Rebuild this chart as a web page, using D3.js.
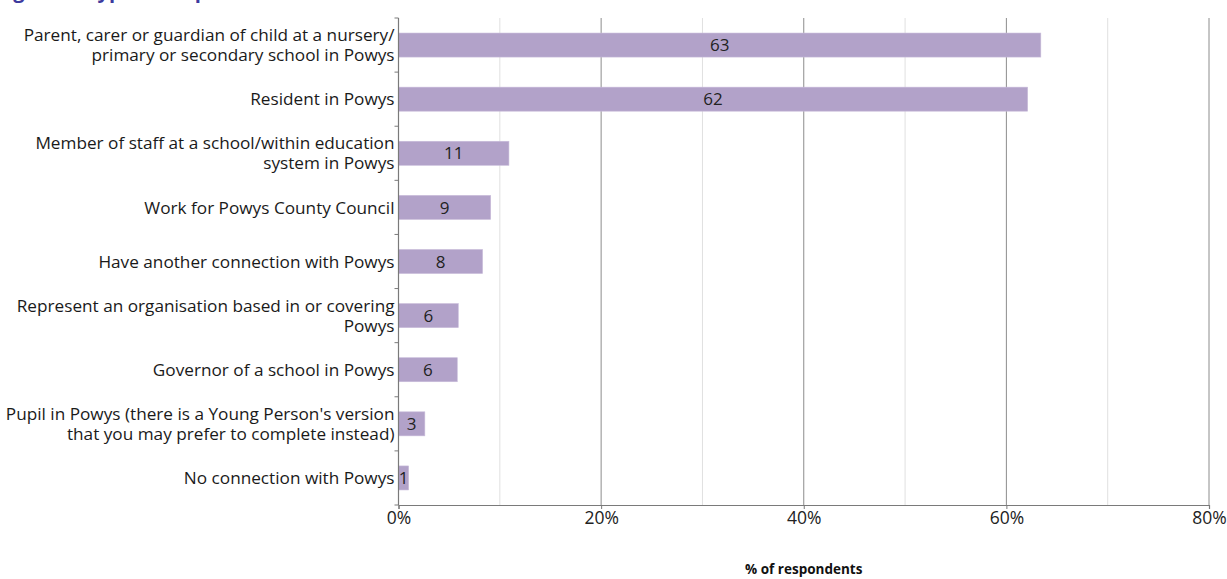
<!DOCTYPE html>
<html>
<head>
<meta charset="utf-8">
<script src="https://cdn.jsdelivr.net/npm/d3@7"></script>
<style>
  html, body { margin: 0; padding: 0; background: #fff; }
  svg { display: block; font-family: "Open Sans", Lato, sans-serif; }
</style>
</head>
<body>
<svg id="chart" width="1227" height="579"></svg>
<script>
// Respondent types (labels split into display lines)
const categories = [
  ["Parent, carer or guardian of child at a nursery/", "primary or secondary school in Powys"],
  ["Resident in Powys"],
  ["Member of staff at a school/within education", "system in Powys"],
  ["Work for Powys County Council"],
  ["Have another connection with Powys"],
  ["Represent an organisation based in or covering", "Powys"],
  ["Governor of a school in Powys"],
  ["Pupil in Powys (there is a Young Person's version", "that you may prefer to complete instead)"],
  ["No connection with Powys"]
];
// Share of respondents, %
const values = [63.4, 62.1, 10.9, 9.1, 8.3, 5.9, 5.8, 2.6, 1.0];
const xTicks = [0, 20, 40, 60, 80];
const xMinorTicks = [10, 30, 50, 70];
const titleText = "Figure 2: Type of respondent";
const axisTitle = "% of respondents";

const svg = d3.select("#chart");
const x = d3.scaleLinear().domain([0, 80]).range([398.5, 1209]);
const y = d3.scaleBand()
  .domain(d3.range(categories.length))
  .range([18, 505])
  .paddingInner(0.556)
  .paddingOuter(0.278);
const y0 = y.range()[0], y1 = y.range()[1];

// Title (runs off the top edge of the page)
const title = svg.append("text")
  .attr("y", -2)
  .attr("font-size", 20).attr("font-weight", 700)
  .attr("fill", "#3d3a9e")
  .text(titleText);
const lead = title.node().getSubStringLength(0, titleText.indexOf("Type"));
title.attr("x", 86 - lead);

// Minor gridlines
svg.append("g").selectAll("line").data(xMinorTicks).join("line")
  .attr("x1", d => x(d)).attr("x2", d => x(d))
  .attr("y1", y0).attr("y2", y1)
  .attr("stroke", "#e0e0e0").attr("stroke-width", 1);

// Major gridlines
svg.append("g").selectAll("line").data(xTicks.filter(d => d > 0)).join("line")
  .attr("x1", d => x(d)).attr("x2", d => x(d))
  .attr("y1", y0).attr("y2", y1)
  .attr("stroke", "#8c8c8c").attr("stroke-width", 1);

// Bars
svg.append("g").selectAll("rect").data(values).join("rect")
  .attr("x", x(0))
  .attr("y", (d, i) => y(i))
  .attr("width", d => x(d) - x(0))
  .attr("height", y.bandwidth())
  .attr("fill", "#b2a2c9")
  .attr("stroke", "#c8bcda").attr("stroke-width", 0.6);

// Value labels
const fmt = d3.format(".0f");
svg.append("g").selectAll("text").data(values).join("text")
  .attr("x", d => (x(0) + x(d)) / 2)
  .attr("y", (d, i) => y(i) + y.bandwidth() / 2)
  .attr("dy", "0.36em")
  .attr("text-anchor", "middle")
  .attr("font-size", 17)
  .attr("fill", "#222")
  .text(d => fmt(d));

// Y axis line and ticks between categories
const yAxisG = svg.append("g");
yAxisG.append("line")
  .attr("x1", x(0)).attr("x2", x(0))
  .attr("y1", y0).attr("y2", y1)
  .attr("stroke", "#7a7a7a").attr("stroke-width", 1.2);
const step = y.step();
yAxisG.selectAll("line.tick").data(d3.range(categories.length + 1)).join("line")
  .attr("class", "tick")
  .attr("x1", x(0) - 4).attr("x2", x(0))
  .attr("y1", i => y0 + i * step)
  .attr("y2", i => y0 + i * step)
  .attr("stroke", "#7a7a7a");

// Category labels, one text per line
const lh = 20;
const catG = svg.append("g").selectAll("g").data(categories).join("g")
  .attr("transform", (d, i) => `translate(${x(0) - 4},${y(i) + y.bandwidth() / 2})`);
catG.selectAll("text")
  .data(lines => lines.map((ln, k) => ({ ln, off: (k - (lines.length - 1) / 2) * lh })))
  .join("text")
  .attr("text-anchor", "end")
  .attr("font-size", 17.2)
  .attr("fill", "#1a1a1a")
  .attr("y", d => d.off)
  .attr("dy", "0.36em")
  .text(d => d.ln);

// X axis
const xAxis = d3.axisBottom(x)
  .tickValues(xTicks)
  .tickFormat(d => d + "%")
  .tickSize(4)
  .tickPadding(3);
const xg = svg.append("g").attr("transform", `translate(0,${y1})`).call(xAxis);
xg.select(".domain").attr("stroke", "#7a7a7a").attr("stroke-width", 1.2);
xg.selectAll(".tick line").attr("stroke", "#7a7a7a");
xg.selectAll(".tick text").attr("font-size", 17.5).attr("fill", "#222")
  .attr("font-family", "'Open Sans', Lato, sans-serif");

// Axis title
svg.append("text")
  .attr("x", (x(0) + x(80)) / 2).attr("y", 574)
  .attr("text-anchor", "middle")
  .attr("font-size", 13.5).attr("font-weight", 700)
  .attr("fill", "#111")
  .text(axisTitle);
</script>
</body>
</html>
